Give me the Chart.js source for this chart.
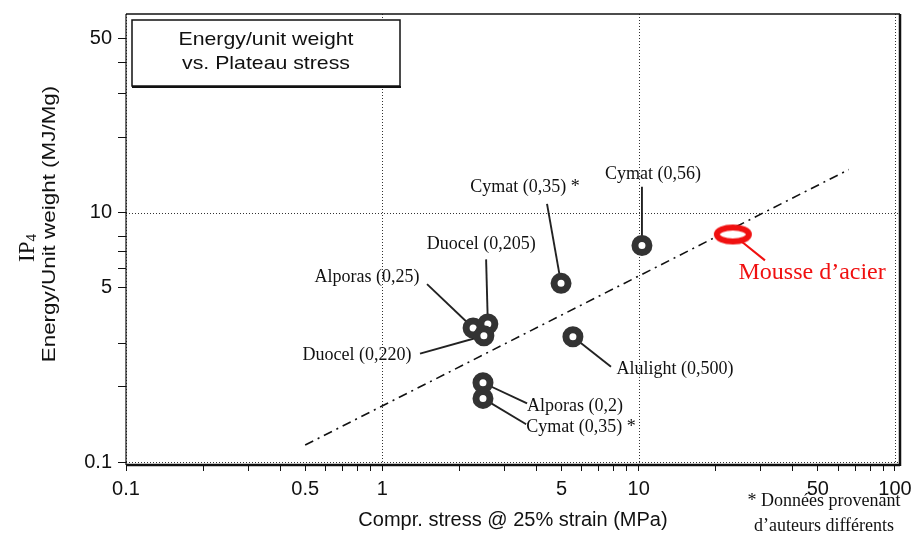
<!DOCTYPE html>
<html>
<head>
<meta charset="utf-8">
<script src="https://cdn.jsdelivr.net/npm/chart.js@4.4.0/dist/chart.umd.min.js"></script>
<style>
  html, body { margin: 0; padding: 0; background: #fff; }
  #wrap { width: 914px; height: 542px; position: relative; }
</style>
</head>
<body>
<div id="wrap"><canvas id="chart"></canvas></div>
<script>
// ── values ──────────────────────────────────
const foamNames  = ['Alporas (0,25)', 'Duocel (0,205)', 'Duocel (0,220)', 'Cymat (0,35) *',
                    'Cymat (0,56)', 'Alulight (0,500)', 'Alporas (0,2)', 'Cymat (0,35) *'];
const foamStress = [2.26, 2.58, 2.49, 4.98, 10.3, 5.54, 2.47, 2.47];   // MPa
const foamEnergy = [3.45, 3.58, 3.21, 5.21, 7.39, 3.18, 2.08, 1.80];   // MJ/Mg

const steelName   = 'Mousse d\u2019acier';
const steelStress = [23.3];
const steelEnergy = [8.18];

const trendStress = [0.5, 66];
const trendEnergy = [1.17, 14.9];

// ── axes ────────────────────────────────────
const xTickValues = [0.1, 0.2, 0.3, 0.4, 0.5, 0.6, 0.7, 0.8, 0.9,
                     1, 2, 3, 4, 5, 6, 7, 8, 9,
                     10, 20, 30, 40, 50, 60, 70, 80, 90, 100];
const xTickShown  = [0.1, 0.5, 1, 5, 10, 50, 100];
const xTickLabels = ['0.1', '0.5', '1', '5', '10', '50', '100'];
const yTickValues = [1, 2, 3, 5, 6, 7, 8, 10, 20, 30, 40, 50];
const yTickShown  = [1, 5, 10, 50];
const yTickLabels = ['0.1', '5', '10', '50'];
const xGridValues = [0.1, 1, 10, 100];
const yGridValues = [1, 10];

// ── label anchors (data units) ──────────────
const labelStress  = [0.871, 2.43, 0.796, 3.60, 11.37, 13.87, 5.64, 5.96];
const labelEnergy  = [5.51, 7.46, 2.69, 12.70, 14.30, 2.35, 1.672, 1.379];
const leaderStress = [1.494, 2.54, 1.403, 4.39, 10.3, 7.80, 3.67, 3.64];
const leaderEnergy = [5.17, 6.50, 2.72, 10.86, 12.70, 2.41, 1.718, 1.417];
const steelLabel   = [47.5, 5.77];
const steelLeader  = [31.1, 6.44];

const SANS  = '"Liberation Sans", Arial, Helvetica, sans-serif';
const SERIF = '"Liberation Serif", "Times New Roman", serif';

// red ellipse marker for the steel foam
function ellipseMarker() {
  const c = document.createElement('canvas');
  c.width = 44; c.height = 26;
  const g = c.getContext('2d');
  g.beginPath();
  g.ellipse(22, 13, 16, 7, 0, 0, Math.PI * 2);
  g.fillStyle = '#fff';
  g.fill();
  g.lineWidth = 6;
  g.strokeStyle = '#f01010';
  g.stroke();
  return c;
}

function seg(ctx, x1, y1, x2, y2) {
  ctx.beginPath(); ctx.moveTo(x1, y1); ctx.lineTo(x2, y2); ctx.stroke();
}

function wideText(ctx, text, x, y, sx) {
  ctx.save(); ctx.translate(x, y); ctx.scale(sx, 1); ctx.fillText(text, 0, 0); ctx.restore();
}

// ── grid, leaders, labels, frame, captions ──
const figureDecor = {
  id: 'figureDecor',
  beforeDatasetsDraw(chart) {
    const { ctx, chartArea: a, scales: { x, y } } = chart;
    ctx.save();
    ctx.strokeStyle = '#333';
    ctx.lineWidth = 1;
    ctx.setLineDash([1, 2]);
    xGridValues.forEach(v => {
      const px = Math.round(x.getPixelForValue(v)) + 0.5;
      seg(ctx, px, a.top, px, a.bottom);
    });
    yGridValues.forEach(v => {
      const py = Math.round(y.getPixelForValue(v)) + 0.5;
      seg(ctx, a.left, py, a.right, py);
    });
    ctx.setLineDash([]);

    ctx.strokeStyle = '#222';
    ctx.lineWidth = 1.9;
    foamNames.forEach((n, i) => {
      seg(ctx, x.getPixelForValue(leaderStress[i]), y.getPixelForValue(leaderEnergy[i]),
               x.getPixelForValue(foamStress[i]), y.getPixelForValue(foamEnergy[i]));
    });
    ctx.strokeStyle = '#f01010';
    ctx.lineWidth = 2;
    seg(ctx, x.getPixelForValue(steelLeader[0]), y.getPixelForValue(steelLeader[1]),
             x.getPixelForValue(steelStress[0]), y.getPixelForValue(steelEnergy[0]));
    ctx.restore();
  },
  afterDatasetsDraw(chart) {
    const { ctx, scales: { x, y } } = chart;
    ctx.save();
    ctx.textAlign = 'center';
    ctx.textBaseline = 'middle';
    ctx.fillStyle = '#111';
    ctx.font = '18px ' + SERIF;
    foamNames.forEach((n, i) => {
      ctx.fillText(n, x.getPixelForValue(labelStress[i]), y.getPixelForValue(labelEnergy[i]));
    });
    ctx.fillStyle = '#f01010';
    ctx.font = '24px ' + SERIF;
    ctx.fillText(steelName, x.getPixelForValue(steelLabel[0]), y.getPixelForValue(steelLabel[1]));
    ctx.restore();
  },
  afterDraw(chart) {
    const { ctx, chartArea: a } = chart;
    ctx.save();
    ctx.strokeStyle = '#111';
    // plot frame
    ctx.lineWidth = 1.5;
    seg(ctx, a.left, a.top, a.right, a.top);
    ctx.lineWidth = 1.2;
    seg(ctx, a.left, a.top, a.left, a.bottom);
    ctx.lineWidth = 2.5;
    seg(ctx, a.right, a.top, a.right, a.bottom + 1);
    seg(ctx, a.left, a.bottom, a.right, a.bottom);

    // title box
    const bx = a.left + 6, by = a.top + 6, bw = 268, bh = 66;
    ctx.fillStyle = '#fff';
    ctx.fillRect(bx, by, bw, bh);
    ctx.lineWidth = 1.5;
    ctx.strokeRect(bx, by, bw, bh);
    ctx.lineWidth = 2;
    seg(ctx, bx, by + bh + 1, bx + bw + 1, by + bh + 1);
    ctx.fillStyle = '#111';
    ctx.font = '19px ' + SANS;
    ctx.textAlign = 'center';
    ctx.textBaseline = 'middle';
    wideText(ctx, 'Energy/unit weight', bx + bw / 2, by + 20, 1.12);
    wideText(ctx, 'vs. Plateau stress', bx + bw / 2, by + 44, 1.12);

    // y axis title
    ctx.save();
    ctx.translate(50, 224);
    ctx.rotate(-Math.PI / 2);
    ctx.font = '19px ' + SANS;
    wideText(ctx, 'Energy/Unit weight (MJ/Mg)', 0, 0, 1.18);
    ctx.restore();

    // IP4
    ctx.save();
    ctx.translate(34, 262);
    ctx.rotate(-Math.PI / 2);
    ctx.textAlign = 'left';
    ctx.textBaseline = 'alphabetic';
    ctx.font = '23px ' + SERIF;
    ctx.fillText('IP', 0, 0);
    const w = ctx.measureText('IP').width;
    ctx.font = '15px ' + SERIF;
    ctx.fillText('4', w, 2);
    ctx.restore();

    // footnote
    ctx.font = '18px ' + SERIF;
    ctx.textAlign = 'center';
    ctx.fillText('* Donn\u00e9es provenant', 824, 501);
    ctx.fillText('d\u2019auteurs diff\u00e9rents', 824, 526);
    ctx.restore();
  }
};

const chart = new Chart(document.getElementById('chart'), {
  data: {
    datasets: [
      {
        type: 'line',
        data: trendStress.map((v, i) => ({ x: v, y: trendEnergy[i] })),
        borderColor: '#111',
        borderWidth: 1.6,
        borderDash: [9, 5, 2, 5],
        pointRadius: 0,
        fill: false,
        order: 3,
      },
      {
        type: 'scatter',
        data: foamStress.map((v, i) => ({ x: v, y: foamEnergy[i] })),
        pointRadius: 7,
        borderWidth: 7,
        borderColor: '#333',
        backgroundColor: '#fff',
        order: 2,
      },
      {
        type: 'scatter',
        data: steelStress.map((v, i) => ({ x: v, y: steelEnergy[i] })),
        pointStyle: ellipseMarker(),
        order: 1,
      },
    ],
  },
  options: {
    responsive: true,
    maintainAspectRatio: false,
    animation: false,
    events: [],
    layout: { padding: { left: 0, top: 10, right: 14, bottom: 0 } },
    plugins: { legend: { display: false }, tooltip: { enabled: false } },
    scales: {
      x: {
        type: 'logarithmic',
        position: 'bottom',
        min: 0.1,
        max: 104.6,
        afterBuildTicks: s => { s.ticks = xTickValues.map(v => ({ value: v })); },
        afterFit: s => { s.height = 77; s.paddingLeft = 0; s.paddingRight = 0; },
        border: { display: false },
        grid: { drawOnChartArea: false, tickLength: 6, color: '#111' },
        ticks: {
          autoSkip: false, maxRotation: 0, padding: 6,
          color: '#111', font: { family: SANS, size: 20 },
          callback: v => { const k = xTickShown.indexOf(v); return k < 0 ? '' : xTickLabels[k]; },
        },
        title: {
          display: true, text: 'Compr. stress @ 25% strain (MPa)',
          color: '#111', font: { family: SANS, size: 20 }, padding: { top: 0, bottom: 10 },
        },
      },
      y: {
        type: 'logarithmic',
        position: 'left',
        min: 0.973,
        max: 62.7,
        afterBuildTicks: s => { s.ticks = yTickValues.map(v => ({ value: v })); },
        afterFit: s => { s.width = 126; s.paddingTop = 0; s.paddingBottom = 0; },
        border: { display: false },
        grid: { drawOnChartArea: false, tickLength: 8, color: '#111' },
        ticks: {
          autoSkip: false, padding: 6,
          color: '#111', font: { family: SANS, size: 20 },
          callback: v => { const k = yTickShown.indexOf(v); return k < 0 ? '' : yTickLabels[k]; },
        },
      },
    },
  },
  plugins: [figureDecor],
});
</script>
</body>
</html>
